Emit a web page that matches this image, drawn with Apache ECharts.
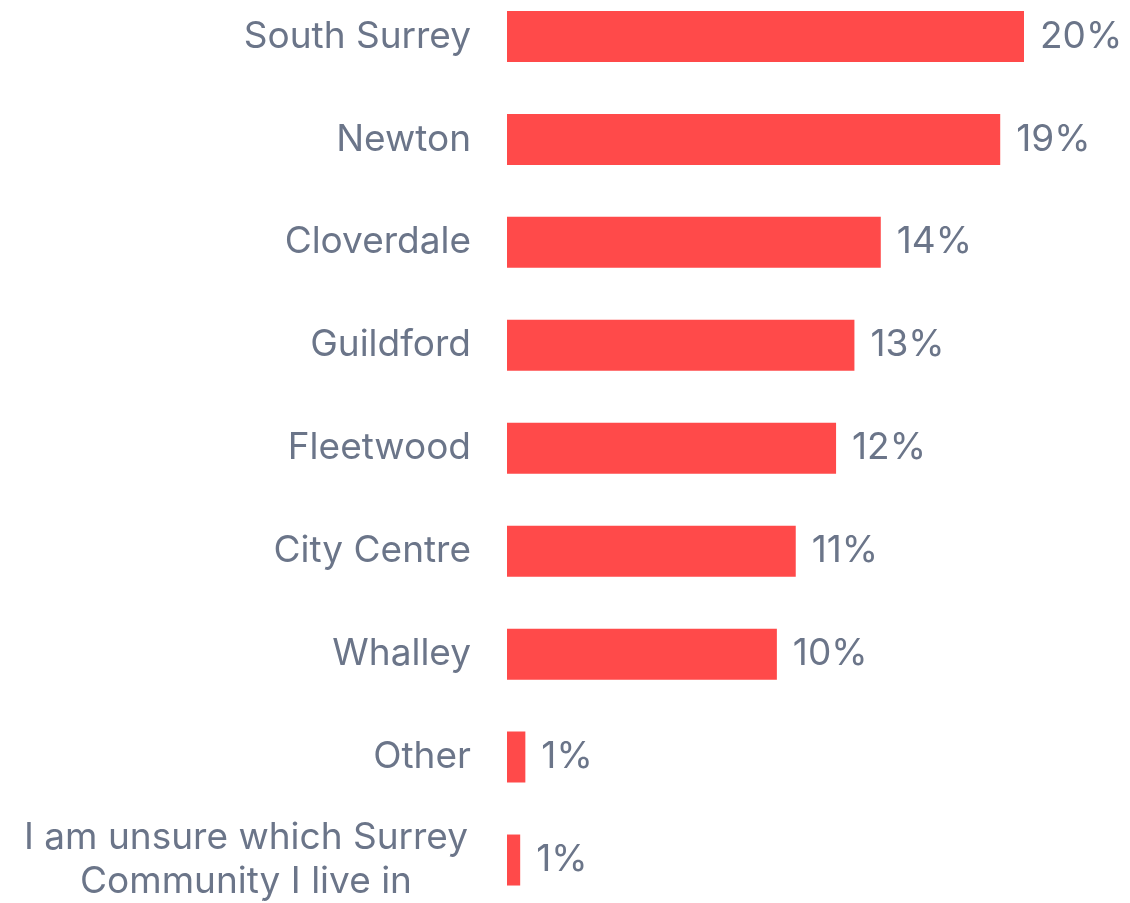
<!DOCTYPE html>
<html>
<head>
<meta charset="utf-8">
<script src="https://cdn.jsdelivr.net/npm/echarts@6/dist/echarts.min.js"></script>
<style>
  html, body { margin: 0; padding: 0; background: #fff; }
  #chart { width: 1130px; height: 903px; }
</style>
</head>
<body>
<div id="chart"></div>
<script>
// categories, top to bottom
var communities = ['South Surrey', 'Newton', 'Cloverdale', 'Guildford', 'Fleetwood',
  'City Centre', 'Whalley', 'Other', 'I am unsure which Surrey\nCommunity I live in'];
// bar lengths (percent)
var shares = [20, 19.08, 14.46, 13.44, 12.73, 11.17, 10.44, 0.71, 0.51];
// printed labels
var shareLabels = ['20%', '19%', '14%', '13%', '12%', '11%', '10%', '1%', '1%'];

var textColor = '#6b7589';
var font = 'Inter, "Noto Sans", sans-serif';

var chart = echarts.init(document.getElementById('chart'));
chart.setOption({
  animation: false,
  grid: { left: 507, top: -15, height: 926.5, right: 54.3, outerBoundsMode: 'none' },
  xAxis: {
    type: 'value', min: 0, max: 22,
    show: false
  },
  yAxis: {
    type: 'category',
    inverse: true,
    data: communities,
    axisLine: { show: false },
    axisTick: { show: false },
    axisLabel: {
      margin: 36,
      color: textColor,
      fontFamily: font,
      fontSize: 37,
      lineHeight: 44,
      formatter: function (v) {
        if (v.indexOf('\n') < 0) return v;
        return v.split('\n').map(function (s) { return '{c|' + s + '}'; }).join('\n');
      },
      rich: {
        c: { width: 450, align: 'center', fontSize: 37, lineHeight: 44, color: textColor, fontFamily: font }
      }
    }
  },
  series: [{
    type: 'bar',
    data: shares,
    barWidth: 51,
    itemStyle: { color: '#ff4a4a' },
    label: {
      show: true,
      position: 'right',
      distance: 16,
      color: textColor,
      fontFamily: font,
      fontSize: 37,
      formatter: function (p) { return shareLabels[p.dataIndex]; }
    }
  }]
});
</script>
</body>
</html>
